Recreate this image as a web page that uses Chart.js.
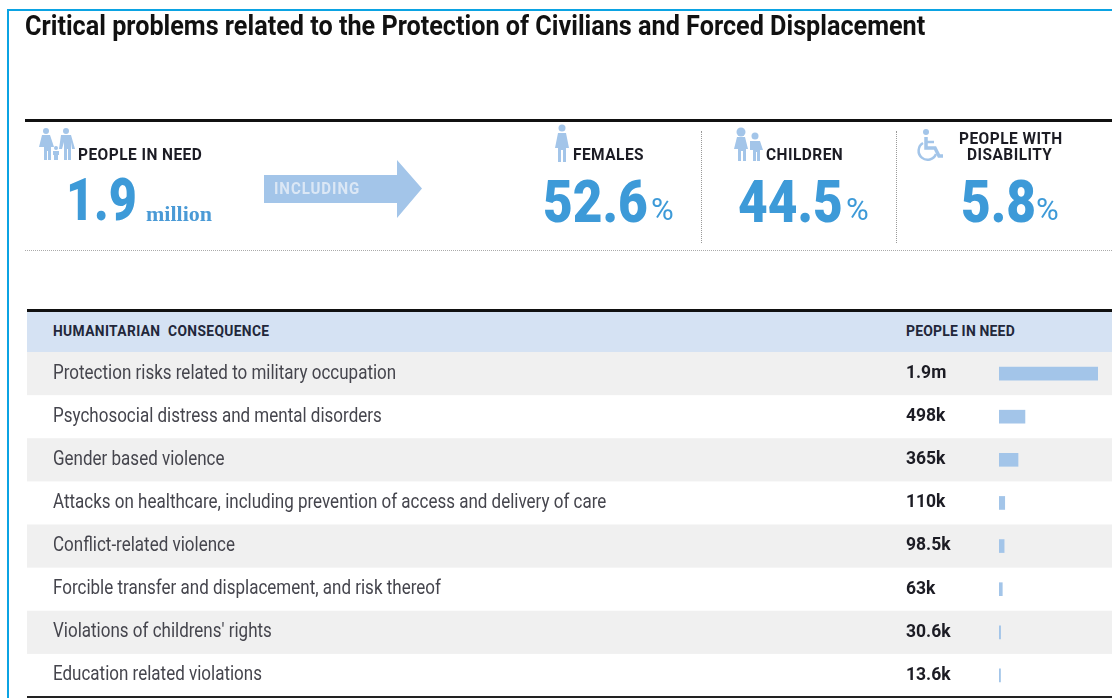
<!DOCTYPE html>
<html lang="en">
<head>
  <meta charset="UTF-8">
  <title>Critical problems related to the Protection of Civilians and Forced Displacement</title>
  <script src="https://cdn.jsdelivr.net/npm/chart.js"></script>
  <style>
    html, body { margin: 0; padding: 0; background: #fff; overflow: hidden; }
    body { width: 1112px; height: 698px; position: relative; font-family: 'Roboto', sans-serif; }
    #resultChart { position: absolute; left: 0; top: 0; }
    .box { position: absolute; }
    .t { position: absolute; white-space: pre; transform-origin: 0 50%; line-height: 1; }
    .head { font-weight: 700; font-size: 17px; letter-spacing: .5px; color: #1c1c24; transform: scaleX(0.91); }
    .num { font-weight: 900; font-size: 59px; color: #3d9ad8; transform: scaleX(0.87); }
    .pct { font-weight: 400; font-size: 31px; color: #3d9ad8; transform: scaleX(1.0); }
    .th { font-weight: 700; font-size: 15px; color: #22273a; }
    svg { position: absolute; fill: #a3c5e9; }
  </style>
</head>
<body>
  <canvas id="resultChart" width="1112" height="698"></canvas>

  <!-- frame and rules -->
  <div class="box" style="left:7px;top:9px;width:2px;height:689px;background:#0ba3e3"></div>
  <div class="box" style="left:7px;top:9px;width:1105px;height:2px;background:#0ba3e3"></div>
  <div class="box" style="left:25px;top:119px;width:1087px;height:3px;background:#111"></div>
  <div class="box" style="left:25px;top:250px;width:1087px;border-top:1px dotted #aaa"></div>
  <div class="box" style="left:701px;top:131px;height:112px;border-left:1px dotted #999"></div>
  <div class="box" style="left:896px;top:131px;height:112px;border-left:1px dotted #999"></div>
  <div class="box" style="left:27px;top:309px;width:1085px;height:3px;background:#111"></div>
  <div class="box" style="left:27px;top:312px;width:1085px;height:40px;background:#d5e2f3"></div>
  <div class="box" style="left:27px;top:696px;width:1085px;height:2px;background:#222"></div>

  <div class="t" style="left:25px;top:12px;font-size:28px;font-weight:700;color:#111;transform:scaleX(0.9)">Critical problems related to the Protection of Civilians and Forced Displacement</div>

  <!-- people in need -->
  <svg style="left:38px;top:127px" width="38" height="35" viewBox="0 0 38 35">
    <circle cx="8" cy="4" r="3"/><path d="M4 8h8l4 12h-3v13h-3v-9h-1v9H6V20H1z"/>
    <circle cx="28" cy="4" r="3"/><path d="M23 8h10l4 14h-3l-1-7v18h-3V22h-1v11h-3V15l-2 7h-3z"/>
    <circle cx="18" cy="21" r="2"/><path d="M15 24h6v4h-1v5h-4v-5h-1z"/>
  </svg>
  <div class="t head" style="left:78px;top:146px">PEOPLE IN NEED</div>
  <div class="t num" style="left:66px;top:170px;transform:scaleX(0.82)">1.9</div>
  <div class="t" style="left:146px;top:203px;font-family:'Liberation Serif';font-weight:700;font-size:22px;color:#4a9ad6">million</div>

  <!-- arrow -->
  <svg style="left:264px;top:160px" width="158" height="58" viewBox="0 0 158 58">
    <path d="M0 15H133V0L158 28.5L133 58V43H0z"/>
  </svg>
  <div class="t" style="left:274px;top:181px;font-size:16px;font-weight:700;color:#dbe7f5;letter-spacing:1px;transform:scaleX(0.94)">INCLUDING</div>

  <!-- females -->
  <svg style="left:554px;top:124px" width="16" height="38" viewBox="0 0 16 38">
    <circle cx="8" cy="4" r="3.5"/><path d="M4 9h8l3 15h-3v14H9V26H7v12H4V24H1z"/>
  </svg>
  <div class="t head" style="left:573px;top:146px">FEMALES</div>
  <div class="t num" style="left:543px;top:172px">52.6</div>
  <div class="t pct" style="left:651px;top:194px">%</div>

  <!-- children -->
  <svg style="left:734px;top:127px" width="30" height="34" viewBox="0 0 30 34">
    <circle cx="7" cy="5" r="4.5"/><path d="M3 10h8l3 12h-2v12H9V24H7v10H4V22H0z"/>
    <circle cx="21" cy="9" r="3.5"/><path d="M16 14h10l3 9h-3v11h-3v-9h-1v9h-3V23h-3z"/>
  </svg>
  <div class="t head" style="left:766px;top:146px">CHILDREN</div>
  <div class="t num" style="left:738px;top:172px">44.5</div>
  <div class="t pct" style="left:846px;top:194px">%</div>

  <!-- disability -->
  <svg style="left:916px;top:128px;fill:none;stroke:#a3c5e9;stroke-width:2.5" width="30" height="34" viewBox="0 0 30 34">
    <circle cx="10" cy="4" r="3" fill="#a3c5e9" stroke="none"/>
    <path d="M10 9v11h9l4 8h4" stroke-width="3.5"/><path d="M10 14h8"/>
    <path d="M7 15a9 9 0 1 0 13 11"/>
  </svg>
  <div class="t head" style="left:959px;top:130px">PEOPLE WITH</div>
  <div class="t head" style="left:967px;top:146px">DISABILITY</div>
  <div class="t num" style="left:961px;top:172px">5.8</div>
  <div class="t pct" style="left:1036px;top:194px">%</div>

  <!-- table header -->
  <div class="t th" style="left:53px;top:324px;letter-spacing:.4px;transform:scaleX(0.92)">HUMANITARIAN  CONSEQUENCE</div>
  <div class="t th" style="left:906px;top:324px;letter-spacing:.2px;transform:scaleX(0.93)">PEOPLE IN NEED</div>

  <script type="text/javascript">
    const categories = [
      "Protection risks related to military occupation",
      "Psychosocial distress and mental disorders",
      "Gender based violence",
      "Attacks on healthcare, including prevention of access and delivery of care",
      "Conflict-related violence",
      "Forcible transfer and displacement, and risk thereof",
      "Violations of childrens' rights",
      "Education related violations"
    ];
    // people in need, thousands
    const peopleInNeed = [1900, 498, 365, 110, 98.5, 63, 30.6, 13.6];
    const valueLabels = ["1.9m", "498k", "365k", "110k", "98.5k", "63k", "30.6k", "13.6k"];

    // grey bands behind every other row, sized from the category scale
    const rowBands = {
      id: 'rowBands',
      beforeDatasetsDraw(chart) {
        const { ctx, scales: { y } } = chart;
        const step = y.getPixelForValue(1) - y.getPixelForValue(0);
        ctx.save();
        ctx.fillStyle = '#f0f0f0';
        categories.forEach((c, i) => {
          if (i % 2 === 0) ctx.fillRect(27, y.getPixelForValue(i) - step / 2, 1085, step);
        });
        ctx.restore();
      }
    };

    // condensed row text: Roboto squeezed, there is no narrow cut installed
    const rowText = {
      id: 'rowText',
      afterDatasetsDraw(chart) {
        const { ctx, scales: { y } } = chart;
        ctx.save();
        ctx.textBaseline = 'middle';
        categories.forEach((c, i) => {
          const py = y.getPixelForValue(i);
          ctx.save();
          ctx.translate(53, py);
          ctx.scale(0.85, 1);
          ctx.font = '400 20px Roboto';
          ctx.fillStyle = '#45454d';
          ctx.fillText(c, 0, 0);
          ctx.restore();
          ctx.save();
          ctx.translate(906, py);
          ctx.font = '700 17.5px Roboto';
          ctx.fillStyle = '#1c1c24';
          ctx.fillText(valueLabels[i], 0, 0);
          ctx.restore();
        });
        ctx.restore();
      }
    };

    new Chart(document.getElementById('resultChart'), {
      type: 'bar',
      data: {
        labels: categories,
        datasets: [{
          data: peopleInNeed,
          backgroundColor: '#a3c5e9',
          barThickness: 13,
          minBarLength: 1.5
        }]
      },
      options: {
        indexAxis: 'y',
        responsive: false,
        animation: false,
        layout: { padding: { left: 53, right: 14, top: 352, bottom: 1 } },
        plugins: { legend: { display: false }, tooltip: { enabled: false } },
        scales: {
          x: { display: false, min: 0, max: 1900 },
          y: {
            grid: { display: false },
            border: { display: false },
            ticks: { display: false },
            afterFit(scale) { scale.width = 946; }
          }
        }
      },
      plugins: [rowBands, rowText]
    });
  </script>
</body>
</html>
